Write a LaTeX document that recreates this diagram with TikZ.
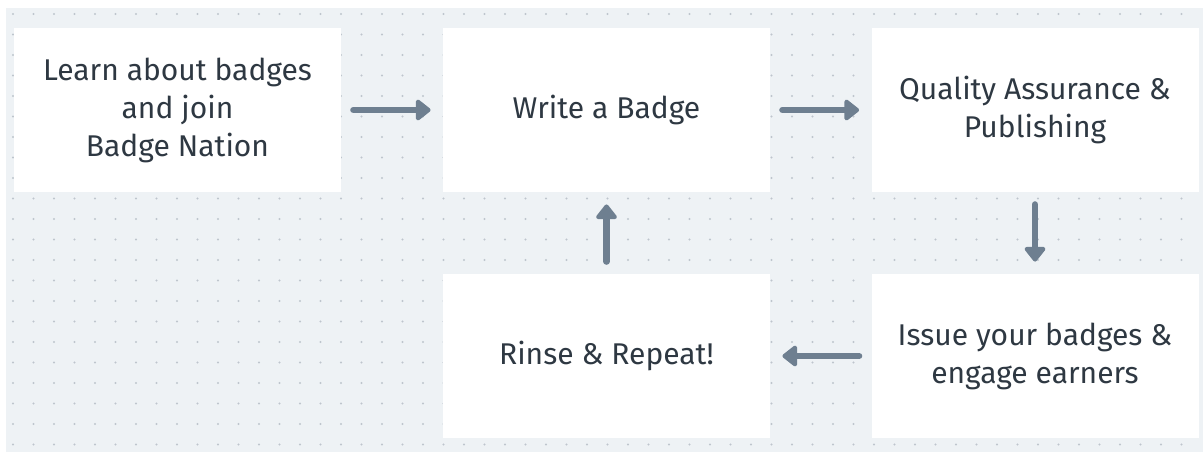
\documentclass[tikz,border=0pt]{standalone}
\usepackage{fontspec}
\setmainfont{Fira Sans}
\usepackage{tikz}
\usetikzlibrary{arrows.meta}
\definecolor{gridbg}{RGB}{238, 242, 245}
\definecolor{griddot}{RGB}{190, 197, 205}
\definecolor{stepgrey}{RGB}{110, 127, 144}
\definecolor{inktext}{RGB}{46, 56, 66}
\tikzstyle{flow} = [
  x=0.5pt,
  y=-0.5pt,
  font=\fontsize{15}{19}\selectfont,
]
\tikzstyle{stepbox} = [
  fill=white,
  text=inktext,
  align=center,
  minimum width=163.5pt,
  minimum height=82pt,
  inner sep=0pt,
]
\tikzstyle{steparrow} = [
  draw=stepgrey,
  line width=3.2pt,
  line cap=round,
  -{Triangle[length=8pt,width=12pt,round]},
  shorten <=6pt,
  shorten >=6pt,
]

\begin{document}
\begin{tikzpicture}[flow]
            \useasboundingbox (0,0) rectangle (1203,457);

            % Dotted background
            \fill[gridbg] (6,8) rectangle (1203,452);
            \foreach \i in {0,...,57} {
                \foreach \j in {0,...,21} {
                    \fill[griddot] (13+20.5*\i, 14+20.5*\j) circle (1.2);
                }
            }

            % Steps
            \node[stepbox] (learn) at (177.5,110) {Learn about badges\\and join\\Badge Nation};
            \node[stepbox] (write) at (606.5,110) {Write a Badge};
            \node[stepbox] (quality) at (1035,110) {Quality Assurance \&\\Publishing};
            \node[stepbox] (issue) at (1035,356) {Issue your badges \&\\engage earners};
            \node[stepbox] (rinse) at (606.5,356) {Rinse \& Repeat!};

            % Arrows
            \draw[steparrow] (learn) -- (write);
            \draw[steparrow] (write) -- (quality);
            \draw[steparrow] (quality) -- (issue);
            \draw[steparrow] (issue) -- (rinse);
            \draw[steparrow] (rinse) -- (write);
          \end{tikzpicture}
\end{document}
